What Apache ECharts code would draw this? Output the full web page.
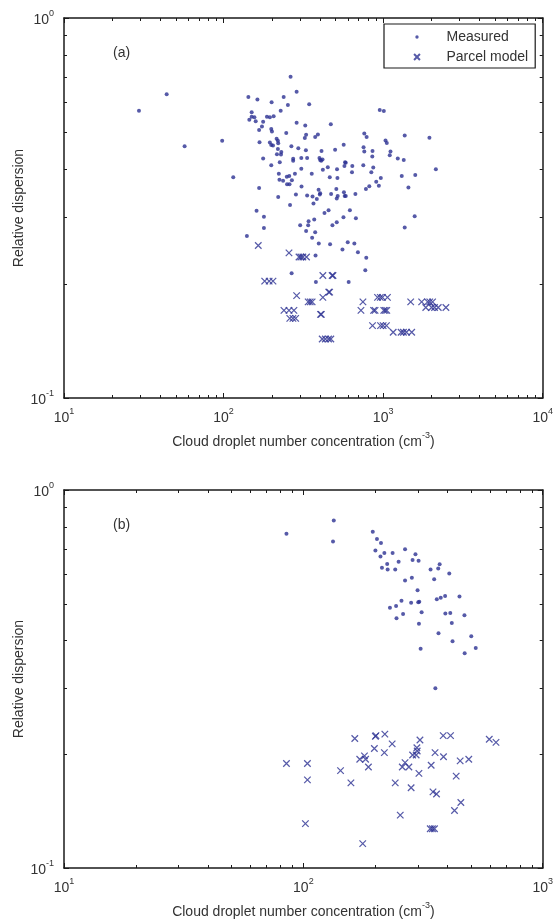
<!DOCTYPE html>
<html>
<head>
<meta charset="utf-8">
<script src="https://cdn.jsdelivr.net/npm/echarts/dist/echarts.min.js"></script>
<style>
  html, body { margin: 0; padding: 0; background: #fff; }
  #chart { width: 556px; height: 920px; }
</style>
</head>
<body>
<div id="chart"></div>
<script>
// Relative dispersion vs. cloud droplet number concentration, two log-log panels.

// ---- data ----
const xRangeA = [10, 10000];
const xRangeB = [10, 1000];
const yRange = [0.1, 1];

// panel (a): [N (cm^-3), relative dispersion]
const measuredA = [
  [263,0.70],[44,0.63],[29.5,0.57],[143,0.62],[163,0.61],[238,0.62],[287,0.64],[200,0.60],[253,0.59],[228,0.57],
  [150,0.565],[150,0.55],[156,0.548],[145,0.54],[159,0.535],[177,0.533],[187,0.55],[195,0.548],[206,0.551],[174,0.518],
  [167,0.507],[199,0.51],[201,0.503],[287,0.53],[247,0.498],[98,0.475],[57,0.46],[168,0.471],[215,0.481],[219,0.475],
  [220,0.468],[195,0.47],[199,0.463],[204,0.462],[266,0.46],[219,0.452],[230,0.444],[229,0.437],[216,0.438],[294,0.454],
  [177,0.427],[273,0.426],[273,0.421],[225,0.417],[199,0.41],[222,0.389],[280,0.389],[249,0.382],[258,0.384],[224,0.375],
  [236,0.373],[268,0.374],[250,0.365],[259,0.365],[115,0.381],[167,0.357],[284,0.343],[220,0.338],[261,0.322],[161,0.311],
  [179,0.30],[179,0.28],[140,0.267],
  [344,0.593],[325,0.521],[470,0.525],[329,0.493],[323,0.483],[390,0.494],[375,0.486],[952,0.573],[1010,0.569],[762,0.497],
  [788,0.486],[566,0.464],[500,0.45],[754,0.457],[762,0.445],[858,0.447],[855,0.432],[1035,0.476],[1054,0.469],[1112,0.445],
  [1100,0.435],[1365,0.491],[1950,0.484],[1235,0.427],[1346,0.423],[2140,0.40],[1590,0.386],[1308,0.384],[1440,0.358],[1576,0.301],
  [1365,0.281],[328,0.449],[411,0.447],[307,0.428],[334,0.428],[399,0.428],[403,0.423],[417,0.424],[409,0.421],[577,0.417],
  [572,0.408],[641,0.408],[583,0.416],[450,0.405],[419,0.399],[514,0.40],[751,0.41],[867,0.404],[843,0.393],[307,0.401],
  [638,0.393],[357,0.389],[463,0.381],[517,0.379],[967,0.379],[905,0.371],[940,0.362],[819,0.361],[780,0.355],[308,0.36],
  [394,0.353],[403,0.346],[401,0.343],[334,0.341],[361,0.339],[384,0.334],[366,0.325],[472,0.344],[519,0.34],[512,0.335],
  [574,0.34],[583,0.34],[509,0.355],[568,0.348],[670,0.344],[455,0.312],[429,0.307],[619,0.312],[564,0.299],[675,0.297],
  [370,0.295],[341,0.292],[339,0.285],[302,0.285],[512,0.29],[481,0.285],[329,0.275],[375,0.273],[359,0.264],
  [395,0.255],[377,0.237],[267,0.213],[379,0.202],[465,0.254],[600,0.257],[660,0.255],[556,0.246],[695,0.242],[784,0.234],
  [773,0.217],[608,0.202]
];
const parcelA = [
  [165,0.252],[257,0.241],[297,0.235],[305,0.235],[314,0.235],[331,0.235],[181,0.203],[193,0.203],[204,0.203],[287,0.186],
  [339,0.179],[349,0.179],[359,0.179],[419,0.21],[479,0.21],[485,0.21],[456,0.19],[462,0.19],[419,0.184],
  [239,0.17],[257,0.17],[276,0.17],[260,0.162],[272,0.162],[283,0.162],[405,0.166],[410,0.166],
  [415,0.143],[434,0.143],[455,0.143],[470,0.143],
  [747,0.179],[726,0.17],[871,0.17],[890,0.17],[1009,0.17],[1030,0.17],[1054,0.17],[922,0.184],[960,0.184],[990,0.184],[1064,0.184],
  [858,0.155],[963,0.155],[1000,0.155],[1049,0.155],[1156,0.149],[1296,0.149],[1340,0.149],[1399,0.149],[1510,0.149],
  [1488,0.179],[1743,0.179],[1900,0.179],[1960,0.179],[2041,0.179],[1850,0.173],[2012,0.173],[2100,0.173],[2215,0.173],[2474,0.173]
];

// panel (b)
const measuredB = [
  [85,0.766],[134,0.83],[133,0.731],[195,0.775],[203,0.742],[211,0.724],[200,0.692],[218,0.681],[236,0.681],[210,0.667],
  [266,0.697],[294,0.676],[286,0.653],[303,0.65],[250,0.646],[224,0.637],[213,0.623],[225,0.616],[242,0.616],[371,0.636],
  [366,0.62],[340,0.616],[407,0.601],[284,0.586],[266,0.576],[352,0.581],[300,0.543],[257,0.509],[282,0.503],[305,0.506],
  [302,0.505],[244,0.493],[230,0.488],[361,0.514],[375,0.519],[391,0.524],[449,0.523],[312,0.475],[261,0.47],[245,0.458],
  [392,0.471],[411,0.473],[471,0.466],[304,0.443],[417,0.445],[367,0.418],[503,0.41],[420,0.398],[525,0.382],[472,0.37],
  [309,0.38],[356,0.299]
];
const parcelB = [
  [85,0.189],[104,0.189],[104,0.171],[102,0.131],[143,0.181],[158,0.168],[164,0.22],[172,0.194],[180,0.198],[182,0.194],
  [187,0.185],[200,0.223],[201,0.224],[219,0.226],[198,0.207],[218,0.202],[235,0.213],[242,0.168],[254,0.138],[266,0.19],
  [259,0.185],[276,0.185],[282,0.163],[307,0.218],[298,0.208],[299,0.204],[286,0.199],[296,0.199],[304,0.178],[342,0.187],
  [355,0.202],[384,0.224],[412,0.224],[385,0.197],[348,0.159],[360,0.157],[339,0.127],[346,0.127],[353,0.127],[452,0.192],
  [491,0.194],[435,0.175],[455,0.149],[428,0.142],[598,0.219],[638,0.215],[177,0.116]
];

const seriesNames = ['Measured', 'Parcel model'];
const panelTags = ['(a)', '(b)'];
const xTitleParts = ['Cloud droplet number concentration (cm', '-3', ')'];
const yTitle = 'Relative dispersion';

// ---- styling ----
const FONT = "'Liberation Sans', Arial, Helvetica, sans-serif";
const TEXT = '#333';
const AXIS = '#1a1a1a';
const MARK = '#2c3192';
const X_SYMBOL = 'path://M0,0L10,10M10,0L0,10';
const DOT_ICON = 'path://M0,0M10,10M3.8,5A1.2,1.2,0,1,1,6.2,5A1.2,1.2,0,1,1,3.8,5Z';
const X_ICON = 'path://M0,0M10,10M2.9,2.9L7.1,7.1M7.1,2.9L2.9,7.1';

const GRID_LEFT = 64, GRID_W = 481, GRID_H = 380;
const GRID_TOPS = [18, 490];
const MAJOR_TICK = 5, MINOR_TICK = 3;

const powRich = {
  b: { fontFamily: FONT, fontSize: 14, color: TEXT, lineHeight: 18, verticalAlign: 'bottom' },
  s: { fontFamily: FONT, fontSize: 9, color: TEXT, lineHeight: 10, verticalAlign: 'top' }
};
const powLabel = v => '{b|10}{s|' + Math.round(Math.log10(v)) + '}';

// minor tick values 2..9 within each decade
function minorValues(range) {
  const out = [];
  const e0 = Math.round(Math.log10(range[0])), e1 = Math.round(Math.log10(range[1]));
  for (let e = e0; e < e1; e++) for (let m = 2; m <= 9; m++) out.push(m * Math.pow(10, e));
  return out;
}

function tickLine(x1, y1, x2, y2) {
  return { type: 'line', shape: { x1, y1, x2, y2 }, style: { stroke: AXIS, lineWidth: 1 } };
}

function xMinorSeries(ax, xr) {
  return {
    type: 'custom', xAxisIndex: ax, yAxisIndex: ax, silent: true, z: 6,
    data: minorValues(xr).map(v => [v, yRange[0]]),
    renderItem(params, api) {
      const v = api.value(0);
      const b = api.coord([v, yRange[0]]), t = api.coord([v, yRange[1]]);
      const x = Math.round(b[0]) + 0.5;
      return { type: 'group', children: [
        tickLine(x, b[1], x, b[1] - MINOR_TICK),
        tickLine(x, t[1], x, t[1] + MINOR_TICK)
      ] };
    }
  };
}

function yMinorSeries(ax, xr) {
  return {
    type: 'custom', xAxisIndex: ax, yAxisIndex: ax, silent: true, z: 6,
    data: minorValues(yRange).map(v => [xr[0], v]),
    renderItem(params, api) {
      const v = api.value(1);
      const l = api.coord([xr[0], v]), r = api.coord([xr[1], v]);
      const y = Math.round(l[1]) + 0.5;
      return { type: 'group', children: [
        tickLine(l[0], y, l[0] + MINOR_TICK, y),
        tickLine(r[0], y, r[0] - MINOR_TICK, y)
      ] };
    }
  };
}

const axisLine = { show: true, lineStyle: { color: AXIS, width: 1.5 } };
const majorTick = { show: true, inside: true, length: MAJOR_TICK, lineStyle: { color: AXIS, width: 1 } };

function xAxes(gi, xr) {
  const base = {
    gridIndex: gi, type: 'log', logBase: 10, min: xr[0], max: xr[1], interval: 1,
    axisLine, axisTick: majorTick, splitLine: { show: false }
  };
  return [
    Object.assign({}, base, {
      position: 'bottom',
      axisLabel: { formatter: powLabel, rich: powRich, margin: 9, color: TEXT },
      name: '{n|' + xTitleParts[0] + '}{s|' + xTitleParts[1] + '}{n|' + xTitleParts[2] + '}',
      nameLocation: 'middle', nameGap: 33,
      nameTextStyle: { rich: {
        n: { fontFamily: FONT, fontSize: 14, color: TEXT, lineHeight: 18, verticalAlign: 'bottom' },
        s: { fontFamily: FONT, fontSize: 9, color: TEXT, lineHeight: 10, verticalAlign: 'top' }
      } }
    }),
    Object.assign({}, base, { position: 'top', axisLabel: { show: false } })
  ];
}

function yAxes(gi) {
  const base = {
    gridIndex: gi, type: 'log', logBase: 10, min: yRange[0], max: yRange[1], interval: 1,
    axisLine, axisTick: majorTick, splitLine: { show: false }
  };
  return [
    Object.assign({}, base, {
      position: 'left',
      axisLabel: { formatter: powLabel, rich: powRich, margin: 10, color: TEXT },
      name: yTitle, nameLocation: 'middle', nameGap: 38, nameMoveOverlap: false,
      nameTextStyle: { fontFamily: FONT, fontSize: 14, color: TEXT }
    }),
    Object.assign({}, base, { position: 'right', axisLabel: { show: false } })
  ];
}

function dataSeries(ax, measured, parcel) {
  return [
    {
      type: 'scatter', name: seriesNames[0], xAxisIndex: ax, yAxisIndex: ax, data: measured,
      symbol: 'circle', symbolSize: 4, itemStyle: { color: MARK }, silent: true, z: 3
    },
    {
      type: 'scatter', name: seriesNames[1], xAxisIndex: ax, yAxisIndex: ax, data: parcel,
      symbol: X_SYMBOL, symbolSize: 6.5,
      itemStyle: { color: MARK, borderColor: MARK, borderWidth: 1.25 }, silent: true, z: 3
    }
  ];
}

const chart = echarts.init(document.getElementById('chart'), null, { renderer: 'canvas' });
chart.setOption({
  animation: false,
  backgroundColor: '#fff',
  textStyle: { fontFamily: FONT },
  title: panelTags.map((t, i) => ({
    text: t, left: 113, top: GRID_TOPS[i] + 28, padding: 0,
    textStyle: { fontFamily: FONT, fontSize: 14, fontWeight: 'normal', color: TEXT }
  })),
  legend: {
    orient: 'vertical', left: 384, top: 24,
    padding: [6, 7, 3, 25], itemGap: 5, itemWidth: 49, itemHeight: 14,
    borderColor: AXIS, borderWidth: 1.2, backgroundColor: '#fff',
    selectedMode: false,
    textStyle: { fontFamily: FONT, fontSize: 14, color: TEXT },
    data: [
      { name: seriesNames[0], icon: DOT_ICON },
      { name: seriesNames[1], icon: X_ICON }
    ]
  },
  grid: GRID_TOPS.map(t => ({ left: GRID_LEFT, top: t, width: GRID_W, height: GRID_H })),
  xAxis: [...xAxes(0, xRangeA), ...xAxes(1, xRangeB)],
  yAxis: [...yAxes(0), ...yAxes(1)],
  series: [
    ...dataSeries(0, measuredA, parcelA),
    ...dataSeries(2, measuredB, parcelB),
    xMinorSeries(0, xRangeA), yMinorSeries(0, xRangeA),
    xMinorSeries(2, xRangeB), yMinorSeries(2, xRangeB)
  ]
});
</script>
</body>
</html>
